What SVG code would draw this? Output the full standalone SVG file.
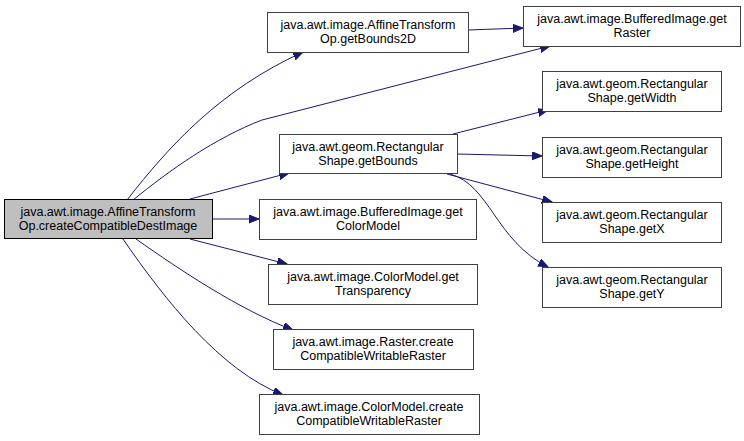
<svg xmlns="http://www.w3.org/2000/svg" width="744" height="441" viewBox="0 0 744 441">
<style>
.n rect{fill:#ffffff;stroke:#404040;stroke-width:1}
.n.cur rect{fill:#bfbfbf;stroke:#000000}
.n text{font-family:"Liberation Sans",Arial,sans-serif;font-size:12.5px;fill:#000000;text-anchor:middle}
#edges path{fill:none;stroke:#191970;stroke-width:1;marker-end:url(#arr)}
</style>
<defs>
<marker id="arr" markerUnits="userSpaceOnUse" markerWidth="12" markerHeight="9" refX="10" refY="4" orient="auto">
<path d="M0,0 L10,4 L0,8 z" fill="#191970" stroke="#191970" stroke-width="1"/>
</marker>
</defs>
<rect width="744" height="441" fill="#ffffff"/>
<g id="edges">
<path d="M127,200 C170,145 220,90 303,52"/>
<path d="M133,200 C170,170 215,138 262,120 L550,46"/>
<path d="M190,199 L289,173"/>
<path d="M212,219 L259,219"/>
<path d="M190,239 L287,264"/>
<path d="M136,239 C180,270 240,310 293,330"/>
<path d="M123,239 C165,300 220,370 283,395"/>
<path d="M468,30 L523,28"/>
<path d="M453,134 L548,110"/>
<path d="M457,154 L542,156"/>
<path d="M447,174 L552,202"/>
<path d="M450,174 C490,185 495,240 548,267"/>
</g>
<g id="node_main" class="n cur"><rect x="4.5" y="199.5" width="208" height="39"/><text x="108" y="216">java.awt.image.AffineTransform</text><text x="108" y="230">Op.createCompatibleDestImage</text></g>
<g id="node_getBounds2D" class="n"><rect x="267.5" y="12.5" width="201" height="40"/><text x="368" y="29">java.awt.image.AffineTransform</text><text x="368" y="43">Op.getBounds2D</text></g>
<g id="node_getRaster" class="n"><rect x="523.5" y="6.5" width="217" height="40"/><text x="632" y="23">java.awt.image.BufferedImage.get</text><text x="632" y="37">Raster</text></g>
<g id="node_getBounds" class="n"><rect x="279.5" y="134.5" width="178" height="39"/><text x="368" y="151">java.awt.geom.Rectangular</text><text x="368" y="165">Shape.getBounds</text></g>
<g id="node_getColorModel" class="n"><rect x="259.5" y="199.5" width="217" height="40"/><text x="368" y="216">java.awt.image.BufferedImage.get</text><text x="368" y="230">ColorModel</text></g>
<g id="node_getTransparency" class="n"><rect x="268.5" y="264.5" width="209" height="40"/><text x="373" y="281">java.awt.image.ColorModel.get</text><text x="373" y="295">Transparency</text></g>
<g id="node_rasterCreate" class="n"><rect x="273.5" y="329.5" width="200" height="40"/><text x="373" y="346">java.awt.image.Raster.create</text><text x="373" y="360">CompatibleWritableRaster</text></g>
<g id="node_colorModelCreate" class="n"><rect x="259.5" y="394.5" width="220" height="40"/><text x="369" y="411">java.awt.image.ColorModel.create</text><text x="369" y="425">CompatibleWritableRaster</text></g>
<g id="node_getWidth" class="n"><rect x="542.5" y="71.5" width="179" height="40"/><text x="632" y="88">java.awt.geom.Rectangular</text><text x="632" y="102">Shape.getWidth</text></g>
<g id="node_getHeight" class="n"><rect x="542.5" y="137.5" width="179" height="40"/><text x="632" y="154">java.awt.geom.Rectangular</text><text x="632" y="168">Shape.getHeight</text></g>
<g id="node_getX" class="n"><rect x="542.5" y="202.5" width="179" height="40"/><text x="632" y="219">java.awt.geom.Rectangular</text><text x="632" y="233">Shape.getX</text></g>
<g id="node_getY" class="n"><rect x="542.5" y="267.5" width="179" height="40"/><text x="632" y="284">java.awt.geom.Rectangular</text><text x="632" y="298">Shape.getY</text></g>
</svg>
